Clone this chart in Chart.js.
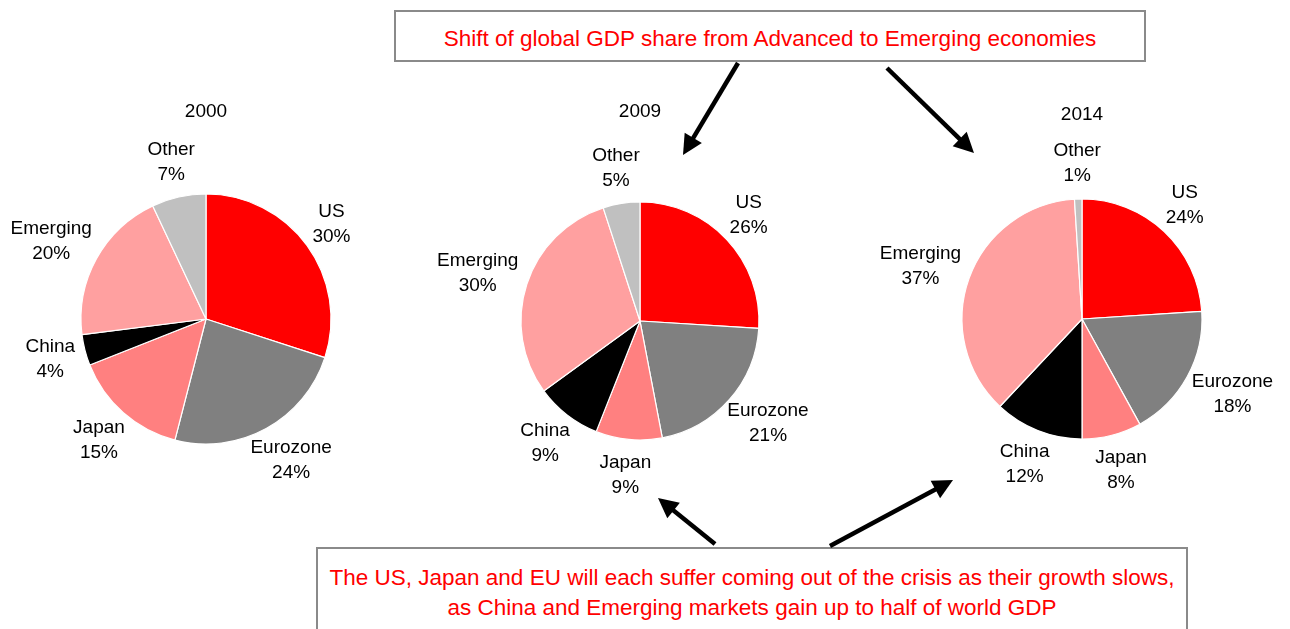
<!DOCTYPE html>
<html>
<head>
<meta charset="utf-8">
<title>Global GDP share</title>
<script src="https://cdn.jsdelivr.net/npm/chart.js@4.4.1/dist/chart.umd.min.js"></script>
<style>
  html, body { margin: 0; padding: 0; background: #fff; }
  body { width: 1290px; height: 629px; position: relative; overflow: hidden;
         font-family: "Liberation Sans", Arial, sans-serif; }
  .pie { position: absolute; width: 440px; height: 440px; }
  .note { position: absolute; background: #fff; border: 2px solid #8a8a8a; box-sizing: border-box;
          color: #ff0000; font-size: 22.5px; text-align: center; }
  #arrows { position: absolute; left: 0; top: 0; pointer-events: none; }
</style>
</head>
<body>

<div class="note" style="left:394px; top:10px; width:752px; height:52px; line-height:54px;">
  Shift of global GDP share from Advanced to Emerging economies
</div>
<div class="note" style="left:316px; top:547px; width:872px; height:100px; padding-top:14px; line-height:30px;">
  The US, Japan and EU will each suffer coming out of the crisis as their growth slows,<br>
  as China and Emerging markets gain up to half of world GDP
</div>

<div class="pie" style="left:-14px; top:99px;"><canvas id="pie2000"></canvas></div>
<div class="pie" style="left:420px; top:101px;"><canvas id="pie2009"></canvas></div>
<div class="pie" style="left:862px; top:99px;"><canvas id="pie2014"></canvas></div>

<svg id="arrows" width="1290" height="629"></svg>

<script>
// data
var categories = ['US', 'Eurozone', 'Japan', 'China', 'Emerging', 'Other'];
var years = ['2000', '2009', '2014'];
var share2000 = [30, 24, 15, 4, 20, 7];
var share2009 = [26, 21, 9, 9, 30, 5];
var share2014 = [24, 18, 8, 12, 37, 1];

var sliceColors = ['#ff0000', '#808080', '#ff8080', '#000000', '#ffa0a0', '#c0c0c0'];
var labelFont = '19px "Liberation Sans", Arial, sans-serif';

// name + percent outside each slice, plus the year above the pie
var sliceLabels = {
    id: 'sliceLabels',
    afterDatasetsDraw: function(chart, args, opts) {
        var ctx = chart.ctx;
        var meta = chart.getDatasetMeta(0);
        var values = chart.data.datasets[0].data;
        var lh = 25;
        ctx.save();
        ctx.font = labelFont;
        ctx.fillStyle = '#000';
        ctx.textAlign = 'center';
        ctx.textBaseline = 'middle';
        meta.data.forEach(function(arc, i) {
            var p = arc.getProps(['x', 'y', 'startAngle', 'endAngle', 'outerRadius'], true);
            var mid = (p.startAngle + p.endAngle) / 2;
            var dx = Math.cos(mid), dy = Math.sin(mid);
            var name = chart.data.labels[i];
            var pct = values[i] + '%';
            var w = Math.max(ctx.measureText(name).width, ctx.measureText(pct).width);
            var ax = p.x + dx * (p.outerRadius + opts.gap);
            var ay = p.y + dy * (p.outerRadius + opts.gap);
            var cx = ax + dx * w / 2;
            var cy = ay + dy * lh;
            ctx.fillText(name, cx, cy - lh / 2);
            ctx.fillText(pct, cx, cy + lh / 2);
        });
        var c = meta.data[0];
        ctx.fillText(opts.title, c.x, c.y - opts.titleOffset);
        ctx.restore();
    }
};

function makePie(id, year, values, radius, titleOffset) {
    var ctx = document.getElementById(id).getContext('2d');
    return new Chart(ctx, {
        type: 'pie',
        data: {
            labels: categories,
            datasets: [{
                data: values,
                backgroundColor: sliceColors,
                borderColor: '#ffffff',
                borderWidth: 1.2
            }]
        },
        options: {
            responsive: true,
            maintainAspectRatio: false,
            animation: false,
            events: [],
            radius: radius,
            layout: { padding: 0 },
            plugins: {
                legend: { display: false },
                tooltip: { enabled: false },
                sliceLabels: { gap: 11, title: year, titleOffset: titleOffset }
            }
        },
        plugins: [sliceLabels]
    });
}

makePie('pie2000', years[0], share2000, 125, 207);
makePie('pie2009', years[1], share2009, 119, 209);
makePie('pie2014', years[2], share2014, 120, 204);

// callout arrows
var svg = document.getElementById('arrows');
function arrow(x1, y1, x2, y2) {
    var ns = 'http://www.w3.org/2000/svg';
    var ang = Math.atan2(y2 - y1, x2 - x1);
    var len = 20, half = 10;
    var bx = x2 - Math.cos(ang) * len, by = y2 - Math.sin(ang) * len;
    var line = document.createElementNS(ns, 'line');
    line.setAttribute('x1', x1); line.setAttribute('y1', y1);
    line.setAttribute('x2', bx + Math.cos(ang) * 2); line.setAttribute('y2', by + Math.sin(ang) * 2);
    line.setAttribute('stroke', '#000'); line.setAttribute('stroke-width', 4.5);
    svg.appendChild(line);
    var px = -Math.sin(ang) * half, py = Math.cos(ang) * half;
    var head = document.createElementNS(ns, 'polygon');
    head.setAttribute('points', x2 + ',' + y2 + ' ' + (bx + px) + ',' + (by + py) + ' ' + (bx - px) + ',' + (by - py));
    head.setAttribute('fill', '#000');
    svg.appendChild(head);
}
arrow(738, 63, 683, 155);
arrow(887, 68, 974, 153);
arrow(715, 544, 658, 498);
arrow(830, 546, 953, 480);
</script>
</body>
</html>
